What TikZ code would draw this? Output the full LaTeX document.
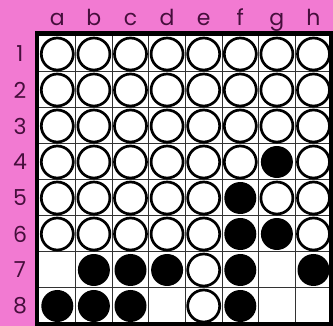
\documentclass[tikz,border=0pt]{standalone}
\usepackage{fontspec}
\setmainfont{Poppins}
\definecolor{boardpink}{RGB}{242,122,210}
\definecolor{labelplum}{RGB}{70,14,60}

\begin{document}
\begin{tikzpicture}[x=1pt, y=-1pt,
  lbl/.style={text=labelplum, font=\fontsize{22}{22}\selectfont, inner sep=0pt},
  stonew/.style={draw=black, fill=white, line width=2.7pt},
  stoneb/.style={fill=black},
  stonex/.style={},
  grid line/.style={draw=black!80, line width=1pt}]
  \useasboundingbox (0,0) rectangle (333,326);
  \clip (0,0) rectangle (333,326);
  \fill[boardpink] (0,0) rectangle (333,326);
  % board
  \fill[white] (37,33.5) rectangle (331,324);
  \foreach \k in {1,...,7} {
    \draw[grid line] ({39+36.6*\k},36) -- ({39+36.6*\k},322);
    \draw[grid line] (39,{36+36*\k}) -- (329,{36+36*\k});
  }
  % column and row labels
  \foreach \c [count=\i] in {a,b,c,d,e,f,g,h}
    \node[lbl, anchor=base] (col-\c) at ({39+36.6*(\i-0.5)},25.5) {\c};
  \foreach \r in {1,...,8}
    \node[lbl] (row-\r) at (20,{36+36*(\r-0.5)}) {\r};
  % stones: w = white, b = black, x = empty
  \foreach \line [count=\j] in {{w,w,w,w,w,w,w,w},{w,w,w,w,w,w,w,w},
      {w,w,w,w,w,w,w,w},{w,w,w,w,w,w,b,w},{w,w,w,w,w,b,w,w},
      {w,w,w,w,w,b,b,w},{x,b,b,b,w,b,x,b},{b,b,b,x,w,b,x,x}}
    \foreach \s [count=\i] in \line
      \path[stone\s] ({39+36.6*(\i-0.5)},{36+36*(\j-0.5)}) circle (16);
  \draw[line width=4.5pt] (37,33.5) rectangle (331,324);
\end{tikzpicture}
\end{document}
